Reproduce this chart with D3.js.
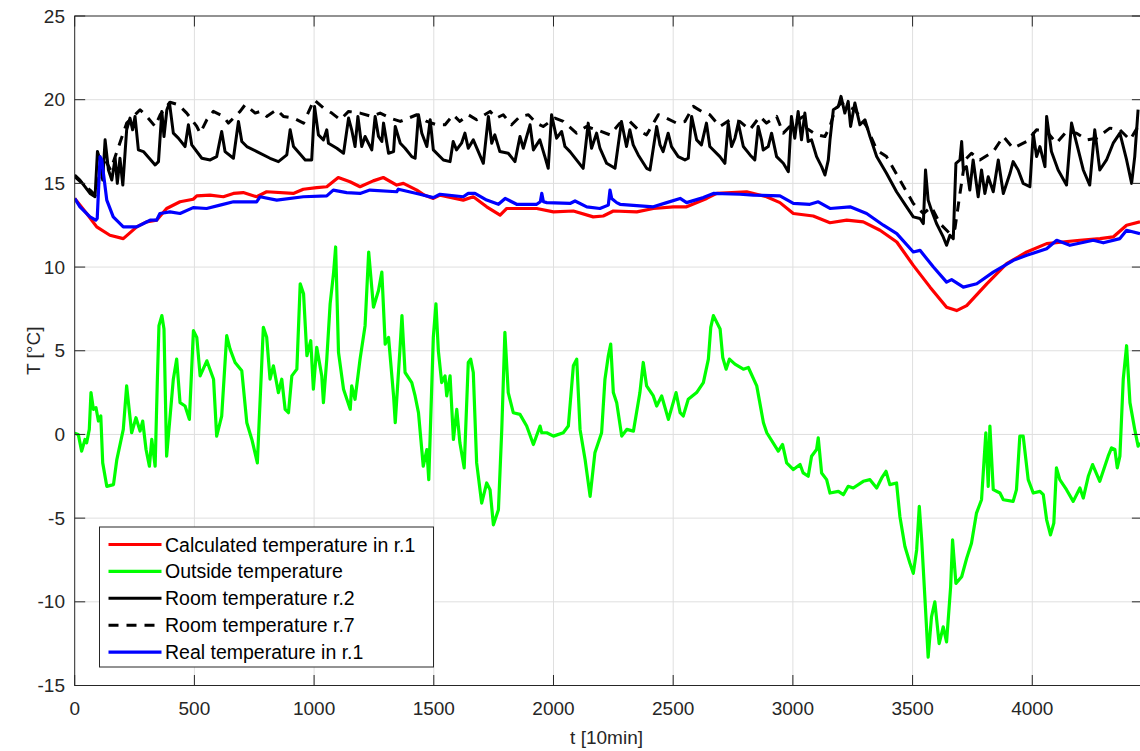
<!DOCTYPE html>
<html>
<head>
<meta charset="utf-8">
<script src="https://cdn.jsdelivr.net/npm/d3@7"></script>
<style>
  html, body { margin: 0; padding: 0; background: #fff; overflow: hidden; }
  svg { display: block; font-family: 'Liberation Sans', Arial, Helvetica, sans-serif; }
  .grid line { stroke: #dfdfdf; stroke-width: 1; }
  .tick-label { fill: #262626; font-size: 19px; }
  .axis-label { fill: #262626; font-size: 19px; }
  .legend-label { fill: #000; font-size: 19.5px; }
</style>
</head>
<body>
<script>
'use strict';

// [t (10 min steps), T (°C)]
const calcR1 = [[0,14.1],[50,13.2],[92,12.4],[147,11.9],[203,11.7],[259,12.4],[300,12.7],[342,12.8],[384,13.5],[440,13.9],[495,14.05],[510,14.25],[565,14.3],[621,14.2],[663,14.4],[704,14.45],[760,14.2],[802,14.5],[913,14.4],[955,14.65],[1011,14.75],[1053,14.8],[1101,15.35],[1150,15.1],[1192,14.8],[1247,15.15],[1289,15.35],[1345,14.9],[1373,15.0],[1429,14.6],[1460,14.3],[1498,14.1],[1526,14.3],[1623,14.0],[1665,14.2],[1721,13.6],[1777,13.1],[1805,13.5],[1930,13.5],[2000,13.3],[2083,13.35],[2166,13.0],[2208,13.05],[2250,13.35],[2348,13.3],[2417,13.5],[2500,13.6],[2556,13.6],[2640,14.1],[2682,14.4],[2807,14.5],[2890,14.2],[2946,13.85],[3002,13.2],[3085,13.05],[3155,12.65],[3225,12.8],[3294,12.7],[3364,12.2],[3434,11.5],[3503,10.1],[3573,8.8],[3642,7.6],[3684,7.4],[3726,7.7],[3810,9.0],[3893,10.2],[3977,10.9],[4060,11.4],[4199,11.6],[4283,11.7],[4338,11.8],[4394,12.5],[4450,12.7]];

const outside = [[0,0.07],[15,0.0],[29,-1.0],[43,-0.3],[50,-0.5],[61,0.3],[68,2.5],[78,1.5],[89,1.6],[99,0.8],[109,1.1],[117,-1.7],[134,-3.1],[162,-3.0],[176,-1.5],[203,0.3],[217,2.9],[238,0.1],[256,1.0],[273,0.2],[284,0.8],[298,-0.9],[312,-1.9],[322,-0.3],[336,-1.9],[345,3.1],[352,6.5],[364,7.1],[373,6.3],[384,-1.3],[412,3.3],[426,4.5],[440,1.9],[461,1.7],[479,0.9],[496,6.2],[510,5.8],[524,3.5],[552,4.4],[580,3.3],[593,-0.1],[614,1.1],[635,5.9],[649,5.1],[670,4.3],[698,3.8],[719,0.7],[740,-0.3],[763,-1.7],[788,6.4],[802,5.8],[816,3.3],[830,4.1],[851,2.5],[865,3.3],[879,1.5],[893,1.3],[907,3.5],[928,3.9],[942,9.0],[956,8.4],[970,4.7],[986,5.6],[997,2.7],[1011,5.2],[1032,3.5],[1039,1.9],[1053,4.5],[1067,7.8],[1081,9.6],[1090,11.2],[1102,4.9],[1123,2.7],[1151,1.5],[1157,2.9],[1171,2.1],[1192,4.5],[1213,6.5],[1228,10.9],[1248,7.6],[1269,8.6],[1283,9.7],[1297,5.4],[1311,5.8],[1332,2.3],[1339,0.7],[1360,5.4],[1367,7.1],[1380,3.7],[1408,3.1],[1422,2.3],[1436,1.3],[1456,-1.9],[1471,-0.9],[1479,-2.7],[1498,5.8],[1509,7.8],[1519,5.0],[1533,3.1],[1547,3.5],[1554,2.3],[1568,3.5],[1582,-0.3],[1596,1.5],[1609,-0.5],[1627,-2.0],[1644,4.3],[1654,4.5],[1665,3.7],[1679,-1.7],[1700,-4.1],[1721,-2.9],[1735,-3.3],[1749,-5.4],[1770,-4.5],[1784,0.3],[1797,6.1],[1811,2.5],[1832,1.3],[1860,1.2],[1888,0.5],[1916,-0.6],[1944,0.5],[1951,0.1],[1972,0.1],[2000,-0.1],[2041,0.1],[2062,0.5],[2083,4.1],[2097,4.5],[2111,0.3],[2132,-1.5],[2153,-3.7],[2173,-1.1],[2201,0.1],[2215,3.3],[2229,4.7],[2239,5.4],[2250,2.5],[2264,1.9],[2285,-0.1],[2306,0.3],[2334,0.2],[2361,2.5],[2375,4.3],[2389,2.9],[2417,2.3],[2431,1.7],[2452,2.3],[2480,0.9],[2512,2.5],[2529,1.3],[2542,1.1],[2563,2.1],[2598,2.5],[2626,3.1],[2647,4.5],[2657,6.4],[2668,7.1],[2696,6.3],[2707,4.6],[2721,3.9],[2735,4.5],[2758,4.2],[2793,3.9],[2814,4.0],[2849,2.9],[2877,0.7],[2891,0.1],[2939,-1.0],[2957,-0.6],[2974,-1.7],[3002,-2.1],[3030,-1.8],[3043,-2.3],[3064,-2.5],[3078,-1.3],[3099,-0.9],[3106,-0.2],[3120,-2.3],[3141,-2.7],[3155,-3.5],[3190,-3.4],[3211,-3.6],[3231,-3.1],[3252,-3.2],[3294,-2.8],[3322,-2.7],[3350,-3.2],[3371,-2.6],[3389,-2.2],[3405,-3.0],[3433,-2.9],[3447,-4.9],[3468,-6.7],[3489,-7.7],[3503,-8.3],[3517,-6.9],[3528,-4.3],[3538,-6.3],[3552,-9.9],[3565,-13.3],[3579,-10.9],[3593,-10.0],[3611,-12.5],[3628,-11.5],[3642,-12.4],[3659,-9.1],[3667,-6.3],[3681,-8.9],[3705,-8.5],[3726,-7.4],[3746,-6.5],[3767,-4.7],[3788,-3.9],[3806,0.1],[3816,-3.1],[3823,0.5],[3837,-3.3],[3865,-3.5],[3879,-3.9],[3920,-4.0],[3934,-3.3],[3948,-0.1],[3962,-0.1],[3983,-2.7],[4004,-3.5],[4032,-3.4],[4046,-3.6],[4060,-5.1],[4076,-6.0],[4090,-5.3],[4101,-2.0],[4115,-2.7],[4143,-3.3],[4171,-4.0],[4199,-3.2],[4213,-3.8],[4234,-2.5],[4252,-1.8],[4282,-2.8],[4317,-1.3],[4331,-0.8],[4345,-0.9],[4355,-2.0],[4366,-1.3],[4380,3.3],[4394,5.3],[4408,1.9],[4428,0.3],[4442,-0.7],[4450,-0.5]];

const roomR2 = [[0,15.5],[22,15.2],[64,14.4],[85,14.2],[95,16.9],[106,16.4],[117,15.2],[127,17.6],[141,15.8],[155,15.2],[169,16.5],[178,15.0],[189,16.5],[201,14.9],[217,18.2],[231,18.9],[242,18.2],[252,19.0],[266,17.0],[287,16.9],[336,16.1],[350,16.3],[364,19.3],[373,17.8],[385,19.4],[396,19.8],[412,18.0],[433,17.7],[461,17.2],[475,18.5],[489,17.3],[531,16.5],[566,16.4],[593,16.6],[614,18.1],[628,16.9],[663,16.5],[684,18.7],[698,17.5],[719,17.2],[761,16.9],[816,16.5],[851,16.3],[886,16.7],[900,18.2],[914,17.2],[963,16.4],[990,16.4],[1002,19.6],[1018,17.9],[1039,17.6],[1053,18.2],[1060,17.4],[1095,17.1],[1123,16.8],[1144,18.9],[1157,18.2],[1171,17.2],[1183,19.0],[1199,17.2],[1213,17.8],[1241,17.0],[1255,19.0],[1269,17.8],[1283,17.5],[1290,18.6],[1311,16.8],[1332,16.9],[1339,18.4],[1360,17.4],[1380,17.1],[1408,16.6],[1422,16.5],[1436,19.1],[1450,18.0],[1471,17.2],[1485,18.8],[1498,17.0],[1540,16.4],[1568,16.3],[1581,17.5],[1595,17.0],[1616,17.4],[1630,18.0],[1644,17.1],[1665,17.6],[1707,16.2],[1728,19.0],[1742,17.4],[1755,17.9],[1776,16.9],[1811,16.8],[1839,16.3],[1860,17.8],[1874,17.1],[1902,18.5],[1916,17.0],[1943,17.6],[1964,16.6],[1978,15.9],[1992,19.1],[2013,17.7],[2034,18.1],[2048,17.2],[2069,16.9],[2124,15.9],[2145,18.6],[2159,17.1],[2180,18.0],[2194,17.1],[2222,16.2],[2257,15.9],[2284,18.7],[2305,17.2],[2319,18.2],[2333,17.3],[2354,16.7],[2389,15.9],[2403,15.8],[2431,18.4],[2445,17.3],[2458,16.9],[2479,18.0],[2493,17.2],[2521,16.6],[2549,16.4],[2563,16.5],[2577,19.0],[2598,17.6],[2618,17.3],[2639,18.6],[2653,17.2],[2695,16.6],[2716,16.2],[2730,18.6],[2744,17.2],[2758,17.7],[2772,18.6],[2793,17.2],[2821,16.7],[2841,16.4],[2855,18.4],[2869,17.6],[2876,17.0],[2897,17.2],[2911,18.0],[2932,16.6],[2960,16.2],[2981,15.7],[2994,19.0],[3008,17.7],[3022,19.3],[3036,17.6],[3050,19.2],[3064,17.5],[3078,17.6],[3099,16.6],[3120,16.0],[3134,15.5],[3148,16.4],[3155,17.6],[3169,19.4],[3190,19.6],[3201,20.2],[3217,19.2],[3231,19.9],[3241,18.4],[3259,19.8],[3280,18.5],[3301,18.8],[3322,17.8],[3350,16.6],[3391,15.6],[3433,14.5],[3475,13.6],[3503,13.0],[3531,12.9],[3545,12.6],[3554,15.8],[3565,14.0],[3579,13.4],[3600,12.6],[3628,11.8],[3642,11.3],[3656,11.9],[3670,11.7],[3681,16.2],[3698,16.4],[3705,17.5],[3712,15.8],[3725,16.0],[3739,14.6],[3753,16.4],[3774,14.2],[3788,15.8],[3802,14.4],[3816,15.4],[3837,14.5],[3858,16.4],[3879,14.4],[3907,15.6],[3920,16.3],[3941,15.8],[3962,15.0],[3990,14.8],[4004,18.0],[4018,16.6],[4032,17.2],[4053,16.0],[4060,19.0],[4080,16.9],[4108,15.8],[4143,14.9],[4164,18.6],[4185,17.4],[4213,15.8],[4240,14.9],[4261,18.2],[4282,15.8],[4310,16.4],[4338,17.4],[4366,18.0],[4394,16.4],[4415,15.0],[4428,16.6],[4442,19.4]];

const roomR7 = [[0,15.4],[64,14.6],[85,14.3],[120,16.6],[150,15.8],[217,18.6],[273,19.4],[301,19.0],[336,18.4],[357,19.1],[398,19.85],[433,19.7],[468,19.2],[510,18.4],[524,18.0],[552,18.8],[579,19.3],[621,19.0],[642,18.6],[691,19.3],[712,19.7],[754,19.2],[775,19.3],[802,19.0],[844,19.4],[872,19.0],[914,18.9],[956,18.6],[1000,20.0],[1039,19.5],[1074,19.2],[1109,18.8],[1144,19.3],[1192,19.2],[1241,19.0],[1276,19.2],[1318,18.9],[1360,18.7],[1429,19.1],[1471,18.7],[1512,18.5],[1547,18.5],[1581,19.1],[1609,18.7],[1644,19.1],[1679,18.8],[1735,19.3],[1762,18.9],[1790,19.1],[1825,18.5],[1860,19.0],[1895,19.1],[1929,18.6],[1957,18.4],[2006,18.9],[2041,18.7],[2096,18.0],[2138,18.4],[2180,18.2],[2236,17.9],[2277,18.6],[2319,18.7],[2361,18.1],[2389,17.9],[2438,19.1],[2472,18.9],[2514,18.6],[2549,18.7],[2584,19.6],[2618,19.3],[2653,19.1],[2695,18.4],[2737,18.8],[2778,18.7],[2820,18.2],[2862,19.0],[2890,18.6],[2932,19.0],[2960,18.0],[3001,18.6],[3043,19.0],[3057,18.3],[3099,17.9],[3134,17.8],[3155,18.4],[3176,19.4],[3201,19.8],[3231,19.6],[3259,19.4],[3308,18.4],[3350,17.0],[3391,16.6],[3447,15.2],[3503,13.8],[3545,13.2],[3579,13.6],[3614,12.6],[3656,12.0],[3677,12.3],[3698,14.4],[3719,16.4],[3746,16.8],[3781,16.4],[3837,16.9],[3879,17.8],[3920,17.1],[3976,17.5],[4018,18.2],[4060,18.1],[4101,17.4],[4143,18.1],[4185,18.0],[4227,17.6],[4268,17.7],[4324,18.3],[4366,18.2],[4408,17.6],[4442,18.4]];

const realR1 = [[0,14.1],[22,13.6],[64,13.0],[88,12.8],[94,12.9],[106,16.6],[113,16.4],[120,15.6],[134,14.0],[161,13.0],[203,12.4],[259,12.4],[315,12.8],[342,12.8],[356,13.2],[398,13.3],[440,13.2],[495,13.55],[551,13.5],[607,13.7],[663,13.9],[760,13.9],[774,14.2],[844,14.0],[955,14.2],[1053,14.25],[1080,14.6],[1136,14.45],[1192,14.4],[1233,14.6],[1345,14.5],[1352,14.65],[1442,14.35],[1498,14.15],[1526,14.35],[1623,14.2],[1644,14.4],[1672,14.4],[1721,14.0],[1770,13.75],[1798,14.1],[1846,13.75],[1930,13.75],[1945,13.9],[1951,14.4],[1958,13.9],[1972,13.85],[2069,13.8],[2090,13.95],[2139,13.6],[2194,13.5],[2229,13.7],[2236,14.6],[2243,14.1],[2264,13.85],[2278,13.75],[2417,13.6],[2473,13.85],[2529,14.1],[2556,13.85],[2626,14.15],[2668,14.4],[2779,14.35],[2835,14.3],[2946,14.25],[3002,13.8],[3071,13.75],[3106,13.9],[3155,13.5],[3239,13.6],[3308,13.2],[3378,12.5],[3434,12.0],[3503,10.9],[3531,11.0],[3587,10.0],[3642,9.1],[3663,9.25],[3712,8.8],[3768,9.0],[3837,9.7],[3921,10.4],[3977,10.7],[4060,11.1],[4102,11.6],[4157,11.3],[4255,11.6],[4297,11.45],[4366,11.7],[4394,12.2],[4450,12.0]];

const xTicks = [0, 500, 1000, 1500, 2000, 2500, 3000, 3500, 4000];
const yTicks = [-15, -10, -5, 0, 5, 10, 15, 20, 25];
const seriesNames = ['Calculated temperature in r.1', 'Outside temperature', 'Room temperature r.2', 'Room temperature r.7', 'Real temperature in r.1'];

const series = [
  { name: seriesNames[0], values: calcR1, color: '#ff0000', dash: null, w: 3.2 },
  { name: seriesNames[1], values: outside, color: '#00ff00', dash: null, w: 3.2 },
  { name: seriesNames[2], values: roomR2, color: '#000000', dash: null, w: 3 },
  { name: seriesNames[3], values: roomR7, color: '#000000', dash: '10,8', w: 3 },
  { name: seriesNames[4], values: realR1, color: '#0000ff', dash: null, w: 3.2 }
];

const W = 1140, H = 751;
const plot = { left: 74.7, top: 16, right: 1142.4, bottom: 685.5 };
const tickLen = 10.5;
const axisColor = '#262626';

const svg = d3.select('body').append('svg').attr('width', W).attr('height', H);
svg.append('rect').attr('width', W).attr('height', H).attr('fill', '#fff');

const x = d3.scaleLinear().domain([0, 4460]).range([plot.left, plot.right]);
const y = d3.scaleLinear().domain([-15, 25]).range([plot.bottom, plot.top]);

svg.append('defs').append('clipPath').attr('id', 'clip')
  .append('rect')
    .attr('x', plot.left).attr('y', plot.top)
    .attr('width', plot.right - plot.left).attr('height', plot.bottom - plot.top);

// grid
const grid = svg.append('g').classed('grid', true);
grid.selectAll('line.gx').data(xTicks.filter(d => d > 0)).enter().append('line')
    .attr('x1', d => x(d)).attr('x2', d => x(d))
    .attr('y1', plot.top).attr('y2', plot.bottom);
grid.selectAll('line.gy').data(yTicks.filter(d => d > -15 && d < 25)).enter().append('line')
    .attr('x1', plot.left).attr('x2', plot.right)
    .attr('y1', d => y(d)).attr('y2', d => y(d));

// series
const line = d3.line().x(d => x(d[0])).y(d => y(d[1]));
const linesg = svg.append('g').attr('clip-path', 'url(#clip)');
linesg.selectAll('path').data(series).enter().append('path')
    .attr('d', d => line(d.values))
    .attr('fill', 'none')
    .attr('stroke', d => d.color)
    .attr('stroke-width', d => d.w)
    .attr('stroke-dasharray', d => d.dash)
    .attr('stroke-linejoin', 'round');

// axes, MATLAB style: box with inward ticks on all four sides
const axg = svg.append('g').attr('stroke', axisColor).attr('stroke-width', 1).attr('fill', 'none');
axg.append('rect')
    .attr('x', plot.left).attr('y', plot.top)
    .attr('width', plot.right - plot.left).attr('height', plot.bottom - plot.top);
xTicks.forEach(t => {
  axg.append('line').attr('x1', x(t)).attr('x2', x(t)).attr('y1', plot.bottom).attr('y2', plot.bottom - tickLen);
  axg.append('line').attr('x1', x(t)).attr('x2', x(t)).attr('y1', plot.top).attr('y2', plot.top + tickLen);
});
yTicks.forEach(t => {
  axg.append('line').attr('x1', plot.left).attr('x2', plot.left + tickLen).attr('y1', y(t)).attr('y2', y(t));
  axg.append('line').attr('x1', plot.right).attr('x2', plot.right - tickLen).attr('y1', y(t)).attr('y2', y(t));
});

svg.append('g').selectAll('text').data(xTicks).enter().append('text')
    .classed('tick-label', true)
    .attr('text-anchor', 'middle')
    .attr('x', d => x(d))
    .attr('y', 715)
    .text(d => d);
svg.append('g').selectAll('text').data(yTicks).enter().append('text')
    .classed('tick-label', true)
    .attr('text-anchor', 'end')
    .attr('dominant-baseline', 'central')
    .attr('x', 65)
    .attr('y', d => y(d))
    .text(d => d);

svg.append('text')
    .classed('axis-label', true)
    .attr('text-anchor', 'middle')
    .attr('x', (plot.left + plot.right) / 2 - 2)
    .attr('y', 744)
    .text('t [10min]');
svg.append('text')
    .classed('axis-label', true)
    .attr('text-anchor', 'middle')
    .attr('transform', `translate(40, ${(plot.top + plot.bottom) / 2}) rotate(-90)`)
    .text('T [°C]');

// legend
const lg = svg.append('g').attr('transform', 'translate(99.5, 527)');
lg.append('rect')
    .attr('width', 334).attr('height', 140)
    .attr('fill', '#fff').attr('stroke', axisColor).attr('stroke-width', 1);
const items = lg.selectAll('g.item').data(series).enter().append('g')
    .classed('item', true)
    .attr('transform', (d, i) => `translate(0, ${17.5 + i * 26.9})`);
items.append('line')
    .attr('x1', 9).attr('x2', 62)
    .attr('stroke', d => d.color)
    .attr('stroke-width', d => d.w)
    .attr('stroke-dasharray', d => d.dash);
items.append('text')
    .classed('legend-label', true)
    .attr('x', 65.5)
    .attr('dominant-baseline', 'central')
    .text(d => d.name);
</script>
</body>
</html>
